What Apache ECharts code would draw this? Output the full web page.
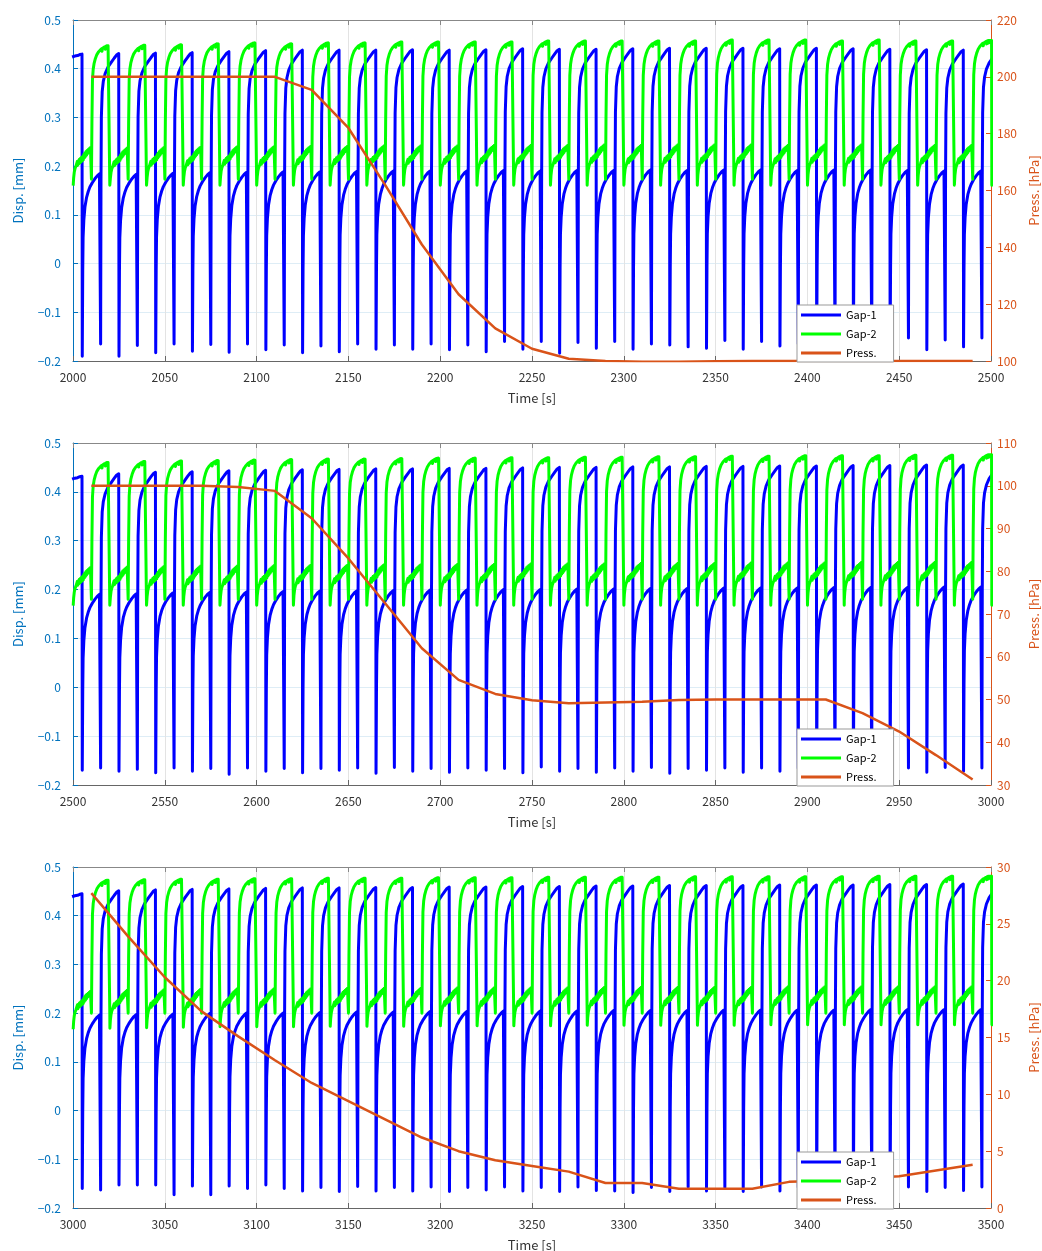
<!DOCTYPE html>
<html>
<head>
<meta charset="utf-8">
<script src="https://cdn.jsdelivr.net/npm/echarts@6/dist/echarts.min.js"></script>
<style>
  html, body { margin: 0; padding: 0; background: #fff; }
  #chart { width: 1042px; height: 1251px; }
</style>
</head>
<body>
<div id="chart"></div>
<script>
// ---- Panel 1: 2000-2500 s ----
const timeRange1 = [2000, 2500];
const pressRange1 = [100, 220, 20];
const gap1DipTime1 = [2005,2015,2025,2035,2045,2055,2065,2075,2085,2095,2105,2115,2125,2135,2145,2155,2165,2175,2185,2195,2205,2215,2225,2235,2245,2255,2265,2275,2285,2295,2305,2315,2325,2335,2345,2355,2365,2375,2385,2395,2405,2415,2425,2435,2445,2455,2465,2475,2485,2495];
const gap1Dip1 = [-0.19,-0.165,-0.19,-0.168,-0.183,-0.165,-0.18,-0.166,-0.182,-0.165,-0.177,-0.167,-0.183,-0.169,-0.181,-0.165,-0.176,-0.167,-0.176,-0.165,-0.177,-0.167,-0.181,-0.16,-0.176,-0.16,-0.184,-0.162,-0.174,-0.16,-0.176,-0.165,-0.167,-0.171,-0.174,-0.158,-0.176,-0.16,-0.169,-0.165,-0.175,-0.16,-0.172,-0.162,-0.17,-0.153,-0.177,-0.157,-0.171,-0.153];
const gap1High1 = [0.43,0.431,0.432,0.433,0.435,0.437,0.438,0.438,0.438,0.439,0.438,0.439,0.441,0.44,0.44,0.441,0.442,0.442,0.442,0.441,0.442,0.441,0.44,0.439,0.438,0.44];
const gap1Low1 = [0.184,0.183,0.185,0.186,0.187,0.188,0.188,0.189,0.19,0.19,0.19,0.191,0.19,0.191,0.191,0.192,0.191,0.192,0.192,0.191,0.192,0.192,0.191,0.19,0.19];
const gap2StepTime1 = [2010,2020,2030,2040,2050,2060,2070,2080,2090,2100,2110,2120,2130,2140,2150,2160,2170,2180,2190,2200,2210,2220,2230,2240,2250,2260,2270,2280,2290,2300,2310,2320,2330,2340,2350,2360,2370,2380,2390,2400,2410,2420,2430,2440,2450,2460,2470,2480,2490,2500.4];
const gap2High1 = [0.447,0.448,0.449,0.451,0.453,0.451,0.453,0.453,0.455,0.455,0.455,0.455,0.457,0.457,0.457,0.457,0.457,0.459,0.459,0.459,0.457,0.459,0.457,0.457,0.458];
const gap2Low1 = [0.238,0.237,0.238,0.239,0.24,0.24,0.241,0.241,0.242,0.242,0.242,0.243,0.243,0.243,0.244,0.243,0.244,0.244,0.244,0.243,0.244,0.244,0.243,0.243,0.243];
const gap2Min1 = [0.173,0.161];
const pressTime1 = [2010,2030,2050,2070,2090,2110,2130,2150,2170,2190,2210,2230,2250,2270,2290,2310,2330,2350,2370,2390,2410,2430,2450,2470,2490];
const press1 = [200,200,200,200,200,200,195.4,182,162,141,123.5,111.5,104.3,100.8,100,99.7,99.7,99.9,100,100,100,100,100,100,100];

// ---- Panel 2: 2500-3000 s ----
const timeRange2 = [2500, 3000];
const pressRange2 = [30, 110, 10];
const gap1DipTime2 = [2505,2515,2525,2535,2545,2555,2565,2575,2585,2595,2605,2615,2625,2635,2645,2655,2665,2675,2685,2695,2705,2715,2725,2735,2745,2755,2765,2775,2785,2795,2805,2815,2825,2835,2845,2855,2865,2875,2885,2895,2905,2915,2925,2935,2945,2955,2965,2975,2985,2995];
const gap1Dip2 = [-0.17,-0.165,-0.172,-0.168,-0.175,-0.165,-0.172,-0.166,-0.178,-0.165,-0.172,-0.166,-0.175,-0.166,-0.17,-0.165,-0.176,-0.164,-0.172,-0.166,-0.174,-0.165,-0.17,-0.166,-0.175,-0.163,-0.172,-0.166,-0.174,-0.165,-0.172,-0.164,-0.176,-0.166,-0.17,-0.165,-0.174,-0.165,-0.172,-0.166,-0.173,-0.164,-0.175,-0.165,-0.17,-0.165,-0.174,-0.164,-0.172,-0.165];
const gap1High2 = [0.432,0.437,0.44,0.441,0.443,0.444,0.445,0.446,0.447,0.447,0.448,0.448,0.449,0.45,0.45,0.451,0.451,0.452,0.452,0.453,0.453,0.454,0.454,0.455,0.455,0.455];
const gap1Low2 = [0.19,0.191,0.193,0.194,0.195,0.196,0.197,0.197,0.198,0.199,0.199,0.2,0.2,0.201,0.201,0.202,0.202,0.203,0.203,0.203,0.204,0.204,0.204,0.205,0.205];
const gap2StepTime2 = [2510,2520,2530,2540,2550,2560,2570,2580,2590,2600,2610,2620,2630,2640,2650,2660,2670,2680,2690,2700,2710,2720,2730,2740,2750,2760,2770,2780,2790,2800,2810,2820,2830,2840,2850,2860,2870,2880,2890,2900,2910,2920,2930,2940,2950,2960,2970,2980,2990,3000.4];
const gap2High2 = [0.46,0.462,0.463,0.464,0.465,0.466,0.467,0.467,0.468,0.469,0.469,0.47,0.47,0.471,0.471,0.472,0.472,0.473,0.473,0.474,0.474,0.474,0.475,0.475,0.476];
const gap2Low2 = [0.245,0.246,0.247,0.248,0.248,0.249,0.25,0.25,0.251,0.251,0.252,0.252,0.253,0.253,0.253,0.254,0.254,0.254,0.255,0.255,0.255,0.256,0.256,0.256,0.256];
const gap2Min2 = [0.18,0.168];
const pressTime2 = [2510,2530,2550,2570,2590,2610,2630,2650,2670,2690,2710,2730,2750,2770,2790,2810,2830,2850,2870,2890,2910,2930,2950,2970,2990];
const press2 = [100,100,100,100,99.7,98.8,92.4,83,72.5,62,54.6,51.3,49.8,49.1,49.3,49.5,49.9,50,50,50,50,46.8,42.5,37,31.3];

// ---- Panel 3: 3000-3500 s ----
const timeRange3 = [3000, 3500];
const pressRange3 = [0, 30, 5];
const gap1DipTime3 = [3005,3015,3025,3035,3045,3055,3065,3075,3085,3095,3105,3115,3125,3135,3145,3155,3165,3175,3185,3195,3205,3215,3225,3235,3245,3255,3265,3275,3285,3295,3305,3315,3325,3335,3345,3355,3365,3375,3385,3395,3405,3415,3425,3435,3445,3455,3465,3475,3485,3495];
const gap1Dip3 = [-0.16,-0.163,-0.153,-0.153,-0.153,-0.173,-0.155,-0.173,-0.155,-0.16,-0.153,-0.16,-0.165,-0.158,-0.166,-0.156,-0.165,-0.158,-0.165,-0.157,-0.166,-0.158,-0.163,-0.157,-0.165,-0.158,-0.166,-0.157,-0.164,-0.165,-0.168,-0.158,-0.166,-0.157,-0.165,-0.158,-0.166,-0.157,-0.165,-0.158,-0.166,-0.157,-0.165,-0.158,-0.166,-0.157,-0.166,-0.158,-0.164,-0.157];
const gap1High3 = [0.445,0.451,0.453,0.454,0.455,0.456,0.457,0.457,0.458,0.458,0.459,0.459,0.46,0.46,0.461,0.461,0.462,0.462,0.462,0.463,0.463,0.463,0.464,0.464,0.465,0.465];
const gap1Low3 = [0.196,0.197,0.198,0.199,0.2,0.2,0.201,0.202,0.202,0.203,0.203,0.204,0.204,0.204,0.205,0.205,0.205,0.206,0.206,0.206,0.206,0.207,0.207,0.207,0.207];
const gap2StepTime3 = [3010,3020,3030,3040,3050,3060,3070,3080,3090,3100,3110,3120,3130,3140,3150,3160,3170,3180,3190,3200,3210,3220,3230,3240,3250,3260,3270,3280,3290,3300,3310,3320,3330,3340,3350,3360,3370,3380,3390,3400,3410,3420,3430,3440,3450,3460,3470,3480,3490,3500.4];
const gap2High3 = [0.473,0.474,0.475,0.475,0.476,0.476,0.477,0.477,0.477,0.478,0.478,0.478,0.479,0.479,0.479,0.479,0.48,0.48,0.48,0.48,0.48,0.481,0.481,0.481,0.481];
const gap2Low3 = [0.245,0.247,0.248,0.249,0.25,0.25,0.25,0.251,0.251,0.251,0.252,0.252,0.252,0.252,0.253,0.253,0.253,0.253,0.253,0.254,0.254,0.254,0.254,0.254,0.254];
const gap2Min3 = [0.2,0.2];
const pressTime3 = [3010,3030,3050,3070,3090,3110,3130,3150,3170,3190,3210,3230,3250,3270,3290,3310,3330,3350,3370,3390,3410,3430,3450,3470,3490];
const press3 = [27.7,23.9,20.3,17.3,15.1,13.0,11.0,9.4,7.8,6.2,5.0,4.2,3.7,3.2,2.2,2.2,1.7,1.7,1.7,2.3,2.4,2.6,2.8,3.3,3.8];

// Shape of each recovery after a step, as [seconds after the step, offset from the level reached]
const gap1LowShape = [[0.3,-0.2],[0.5,-0.13],[0.9,-0.095],[1.5,-0.068],[2.4,-0.048],[3.3,-0.036],[4.2,-0.027],[5.5,-0.018],[6.9,-0.01],[7.6,-0.006],[7.9,-0.009],[8.2,-0.004],[8.5,-0.007],[8.8,-0.002],[9.1,-0.005],[9.4,0],[9.65,-0.002]];
const gap1HighShape = [[0.25,-0.26],[0.45,-0.13],[0.9,-0.078],[1.5,-0.057],[2.5,-0.041],[4.0,-0.028],[6.0,-0.017],[7.5,-0.009],[7.8,-0.012],[8.1,-0.006],[8.4,-0.009],[8.7,-0.003],[9.0,-0.006],[9.3,0],[9.6,-0.002]];
const gap1LeadShape = [[4.5,-0.006],[6.0,-0.004],[7.5,-0.003],[7.8,-0.006],[8.1,-0.002],[8.4,-0.005],[8.7,-0.001],[9.0,-0.004],[9.3,0],[9.6,-0.002]];
const gap2LowShape = [[0.1,-0.078],[0.35,-0.062],[0.7,-0.05],[1.1,-0.043],[1.6,-0.038],[2.1,-0.034],[2.4,-0.028],[2.6,-0.036],[2.9,-0.027],[3.2,-0.033],[3.5,-0.024],[3.8,-0.031],[4.1,-0.022],[4.4,-0.029],[4.7,-0.02],[5.0,-0.027],[5.3,-0.018],[5.6,-0.025],[5.9,-0.014],[6.2,-0.021],[6.5,-0.011],[6.8,-0.018],[7.1,-0.008],[7.4,-0.015],[7.7,-0.006],[8.0,-0.012],[8.3,-0.004],[8.6,-0.01],[8.9,-0.002],[9.2,-0.008],[9.5,0],[9.7,-0.004]];
const gap2HighShape = [[0.3,-0.16],[0.6,-0.07],[1.0,-0.048],[1.5,-0.036],[2.2,-0.026],[3.0,-0.018],[4.0,-0.012],[5.0,-0.009],[5.5,-0.006],[5.8,-0.011],[6.1,-0.005],[6.4,-0.009],[6.7,-0.003],[7.0,-0.008],[7.3,-0.002],[7.6,-0.007],[7.9,-0.001],[8.2,-0.006],[8.5,0],[8.8,-0.005],[9.1,0],[9.4,-0.004],[9.65,0]];

const legendNames = ['Gap-1', 'Gap-2', 'Press.'];
const COLOR_GAP1 = '#0000FF';
const COLOR_GAP2 = '#00FF00';
const COLOR_PRESS = '#D95319';
const COLOR_LEFT = '#0072BD';
const FONT = '"Noto Sans CJK JP", "Noto Sans", sans-serif';

// Interleave the two plateau levels: levels[i] is the value reached just before step i
function interleave(first, second, n) {
  const out = [];
  for (let i = 0; i < n; i++) {
    const k = Math.floor(i / 2);
    out.push(i % 2 === 0 ? first[k] : second[k]);
  }
  return out;
}

// Square-ish wave: at each step time the trace drops to its minimum and recovers
// towards the next plateau following the shape tables.
function buildTrace(stepTimes, minima, levels, evenShape, oddShape, leadShape) {
  const pts = [];
  const t0 = stepTimes[0];
  const gap = stepTimes[1] - stepTimes[0];
  leadShape.forEach(([dt, dv]) => pts.push([t0 - gap + dt, levels[0] + dv]));
  for (let i = 0; i < stepTimes.length; i++) {
    const t = stepTimes[i];
    pts.push([t - 0.1, levels[i]]);
    pts.push([t + 0.05, minima[i]]);
    const shape = i % 2 === 0 ? evenShape : oddShape;
    shape.forEach(([dt, dv]) => pts.push([t + dt, levels[i + 1] + dv]));
  }
  return pts;
}

function gap1Series(dipTimes, dips, highs, lows) {
  const levels = interleave(highs, lows, dipTimes.length + 1);
  return buildTrace(dipTimes, dips, levels, gap1LowShape, gap1HighShape, gap1LeadShape);
}

function gap2Series(stepTimes, mins, highs, lows) {
  const levels = interleave(lows, highs, stepTimes.length + 1);
  levels[stepTimes.length] = lows[lows.length - 1];
  const minima = stepTimes.map((_, i) => mins[i % 2]);
  return buildTrace(stepTimes, minima, levels, gap2HighShape, gap2LowShape, gap2LowShape);
}

const panels = [
  { range: timeRange1, press: pressRange1, top: 20, height: 341,
    g1: gap1Series(gap1DipTime1, gap1Dip1, gap1High1, gap1Low1),
    g2: gap2Series(gap2StepTime1, gap2Min1, gap2High1, gap2Low1),
    p: pressTime1.map((t, i) => [t, press1[i]]) },
  { range: timeRange2, press: pressRange2, top: 443, height: 342,
    g1: gap1Series(gap1DipTime2, gap1Dip2, gap1High2, gap1Low2),
    g2: gap2Series(gap2StepTime2, gap2Min2, gap2High2, gap2Low2),
    p: pressTime2.map((t, i) => [t, press2[i]]) },
  { range: timeRange3, press: pressRange3, top: 867, height: 341,
    g1: gap1Series(gap1DipTime3, gap1Dip3, gap1High3, gap1Low3),
    g2: gap2Series(gap2StepTime3, gap2Min3, gap2High3, gap2Low3),
    p: pressTime3.map((t, i) => [t, press3[i]]) }
];

const grid = [], xAxis = [], yAxis = [], series = [], legend = [];
const n = panels.length;

panels.forEach((pn, k) => {
  grid.push({ left: 73, right: 51, top: pn.top, height: pn.height, show: false,
              containLabel: false, outerBoundsMode: 'none' });
  legend.push({
    data: legendNames, left: 797, top: pn.top + pn.height - 56, z: 20,
    orient: 'vertical', icon: 'rect', itemWidth: 40, itemHeight: 3, itemGap: 5,
    backgroundColor: '#fff', borderColor: '#999', borderWidth: 1, borderRadius: 0,
    padding: [3, 17, 2, 4], selectedMode: false,
    textStyle: { fontFamily: FONT, fontSize: 11, color: '#000', lineHeight: 14 }
  });
});

// bottom time axes
panels.forEach((pn, k) => {
  xAxis.push({
    type: 'value', gridIndex: k, min: pn.range[0], max: pn.range[1], interval: 50,
    position: 'bottom',
    name: 'Time [s]', nameLocation: 'middle', nameGap: 31,
    nameTextStyle: { fontFamily: FONT, fontSize: 13, color: '#333' },
    axisLine: { show: true, onZero: false, lineStyle: { color: '#666', width: 1 } },
    axisTick: { show: true, inside: true, length: 5, lineStyle: { color: '#666' } },
    axisLabel: { fontFamily: FONT, fontSize: 12, color: '#333', margin: 10, formatter: v => String(v) },
    splitLine: { show: true, lineStyle: { color: '#e3e3e3', width: 1 } }
  });
});
// top frame axes
panels.forEach((pn, k) => {
  xAxis.push({
    type: 'value', gridIndex: k, min: pn.range[0], max: pn.range[1], interval: 50,
    position: 'top',
    axisLine: { show: true, onZero: false, lineStyle: { color: '#888', width: 1 } },
    axisTick: { show: true, inside: true, length: 5, lineStyle: { color: '#888' } },
    axisLabel: { show: false }, splitLine: { show: false }
  });
});
// left displacement axes
panels.forEach((pn, k) => {
  yAxis.push({
    type: 'value', gridIndex: k, min: -0.2, max: 0.5, interval: 0.1, position: 'left',
    name: 'Disp. [mm]', nameLocation: 'middle', nameGap: 48, nameRotate: 90,
    nameTextStyle: { fontFamily: FONT, fontSize: 13, color: COLOR_LEFT },
    axisLine: { show: true, onZero: false, lineStyle: { color: COLOR_LEFT, width: 1 } },
    axisTick: { show: true, inside: true, length: 5, lineStyle: { color: COLOR_LEFT } },
    axisLabel: {
      fontFamily: FONT, fontSize: 12, color: COLOR_LEFT, margin: 12,
      formatter: v => {
        const r = Math.round(v * 10) / 10;
        if (r === 0) return '0';
        return r < 0 ? '\u2212' + Math.abs(r).toFixed(1) : r.toFixed(1);
      }
    },
    splitLine: { show: true, lineStyle: { color: 'rgba(0,114,189,0.13)', width: 1 } }
  });
});
// right pressure axes
panels.forEach((pn, k) => {
  yAxis.push({
    type: 'value', gridIndex: k, min: pn.press[0], max: pn.press[1], interval: pn.press[2],
    position: 'right',
    name: 'Press. [hPa]', nameLocation: 'middle', nameGap: 37, nameRotate: 90,
    nameTextStyle: { fontFamily: FONT, fontSize: 13, color: COLOR_PRESS },
    axisLine: { show: true, onZero: false, lineStyle: { color: COLOR_PRESS, width: 1 } },
    axisTick: { show: true, inside: true, length: 5, lineStyle: { color: COLOR_PRESS } },
    axisLabel: { fontFamily: FONT, fontSize: 12, color: COLOR_PRESS, margin: 6 },
    splitLine: { show: false }
  });
});

panels.forEach((pn, k) => {
  series.push({
    name: 'Gap-1', type: 'line', xAxisIndex: k, yAxisIndex: k, data: pn.g1,
    showSymbol: false, symbol: 'none', clip: true, z: 2,
    lineStyle: { color: COLOR_GAP1, width: 3, join: 'round' }, itemStyle: { color: COLOR_GAP1 }
  });
  series.push({
    name: 'Gap-2', type: 'line', xAxisIndex: k, yAxisIndex: k, data: pn.g2,
    showSymbol: false, symbol: 'none', clip: true, z: 2,
    lineStyle: { color: COLOR_GAP2, width: 3, join: 'round' }, itemStyle: { color: COLOR_GAP2 }
  });
  series.push({
    name: 'Press.', type: 'line', xAxisIndex: k, yAxisIndex: n + k, data: pn.p,
    showSymbol: false, symbol: 'none', clip: true, z: 3,
    lineStyle: { color: COLOR_PRESS, width: 2.5 }, itemStyle: { color: COLOR_PRESS }
  });
});

const chart = echarts.init(document.getElementById('chart'), null, { renderer: 'canvas' });
chart.setOption({
  backgroundColor: '#ffffff',
  animation: false,
  grid, xAxis, yAxis, series, legend
});
</script>
</body>
</html>
